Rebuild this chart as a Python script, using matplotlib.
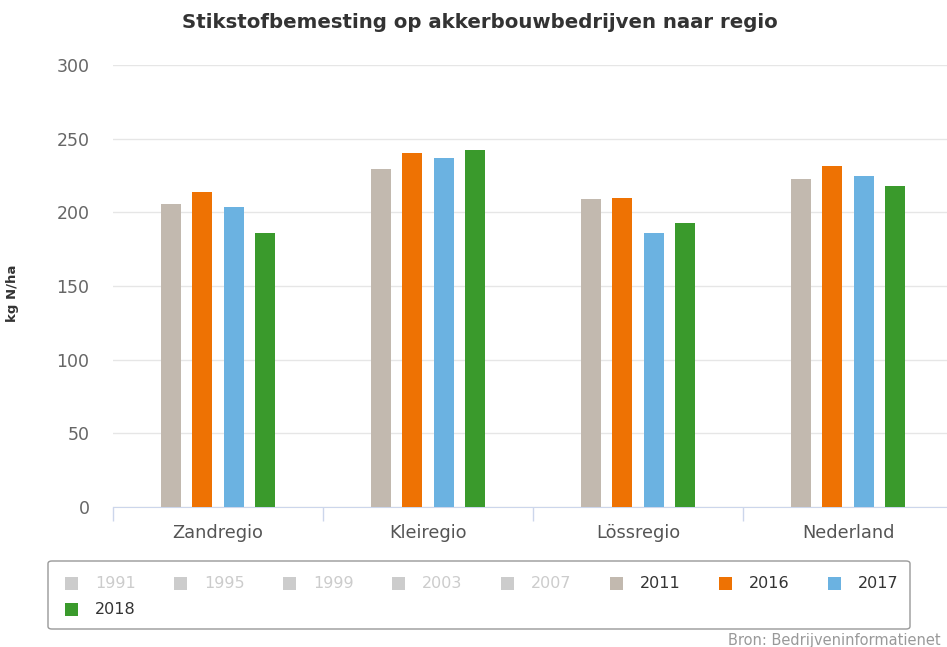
import numpy as np
import matplotlib.pyplot as plt
from matplotlib.patches import Rectangle, FancyBboxPatch

# Data
regions = ['Zandregio', 'Kleiregio', 'Lössregio', 'Nederland']
years_shown = ['2011', '2016', '2017', '2018']
values = {
    '2011': [205.5, 229.5, 209, 222.5],
    '2016': [213.5, 240, 210, 231.5],
    '2017': [203.5, 237, 186, 224.5],
    '2018': [186, 242.5, 192.5, 218],
}
legend_years = ['1991', '1995', '1999', '2003', '2007', '2011', '2016', '2017', '2018']
colors = {'2011': '#c2b9af', '2016': '#ee7203', '2017': '#6bb2e1', '2018': '#3a9a2c'}
hidden_color = '#cccccc'

W, H = 947, 647
fig = plt.figure(figsize=(W / 100, H / 100), dpi=100)
plt.rcParams['font.family'] = 'DejaVu Sans'

# plot area: y=0 at 507px, y=300 at 65px, categories 210px wide starting at 113px
ax = fig.add_axes([113 / W, (H - 507) / H, 840 / W, 442 / H])
ax.set_xlim(-0.5, len(regions) - 0.5)
ax.set_ylim(0, 300)

x = np.arange(len(regions))
bar_w = 0.095
step = 0.15
for i, yr in enumerate(years_shown):
    off = (i - (len(years_shown) - 1) / 2) * step
    ax.bar(x + off, values[yr], width=bar_w, color=colors[yr], zorder=3)

ax.set_yticks(np.arange(0, 301, 50))
ax.grid(axis='y', color='#e6e6e6', linewidth=1, zorder=0)
ax.tick_params(axis='y', length=0, labelsize=12.5, labelcolor='#666666', pad=17)
for s in ['top', 'right', 'left']:
    ax.spines[s].set_visible(False)
ax.spines['bottom'].set_color('#ccd6eb')

# category ticks at boundaries, labels at centers
ax.set_xticks(np.arange(-0.5, len(regions), 1.0))
ax.set_xticklabels([])
ax.tick_params(axis='x', length=10, color='#ccd6eb', width=1)
ax.set_xticks(x, minor=True)
ax.set_xticklabels(regions, minor=True)
ax.tick_params(axis='x', which='minor', length=0, labelsize=12.8, labelcolor='#555555', pad=12)

ax.set_ylabel('kg N/ha', fontsize=9.5, fontweight='bold', color='#333333')
ax.yaxis.set_label_coords((19 - 113) / 840, (507 - 293) / 442)

fig.text(480 / W, 1 - 22 / H, 'Stikstofbemesting op akkerbouwbedrijven naar regio',
         ha='center', va='center', fontsize=14.2, fontweight='bold', color='#333333')

# legend box
box = FancyBboxPatch((48 / W, 1 - 629 / H), 862 / W, 68 / H,
                     boxstyle='round,pad=0,rounding_size=0.004',
                     transform=fig.transFigure, facecolor='white',
                     edgecolor='#999999', linewidth=1)
fig.patches.append(box)
for i, yr in enumerate(legend_years):
    row, col = divmod(i, 8)
    px = 65 + col * 109
    py = 583 + row * 26
    c = colors.get(yr, hidden_color)
    tc = '#333333' if yr in colors else hidden_color
    fig.patches.append(Rectangle((px / W, 1 - (py + 6.5) / H), 13 / W, 13 / H,
                                 transform=fig.transFigure, facecolor=c, edgecolor='none'))
    fig.text((px + 30) / W, 1 - py / H, yr, ha='left', va='center',
             fontsize=11.5, color=tc)

fig.text(728 / W, 1 - 641 / H, 'Bron: Bedrijveninformatienet', ha='left', va='center',
         fontsize=10.5, color='#999999')

fig.savefig('out.png', dpi=100)
